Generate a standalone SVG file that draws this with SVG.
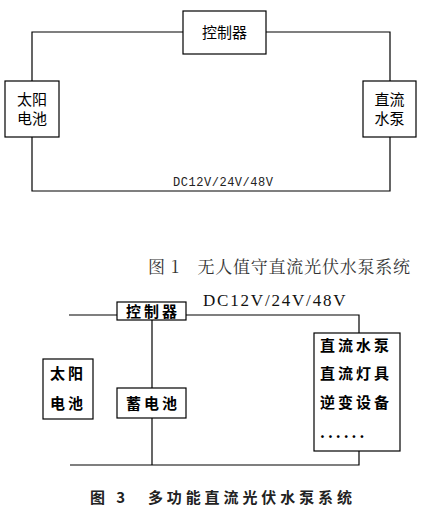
<svg xmlns="http://www.w3.org/2000/svg" width="422" height="518" viewBox="0 0 422 518">
<style>
.box{fill:#fff;stroke:#000;stroke-width:1.2}
.ln{fill:none;stroke:#000;stroke-width:1.2}
.t{font-family:"Noto Sans CJK SC","Noto Sans CJK JP",sans-serif;font-size:15px;fill:#000}
.t3{font-family:"Noto Sans CJK SC","Noto Sans CJK JP",sans-serif;font-size:15px;font-weight:bold;fill:#000;letter-spacing:3px}
.cap{font-family:"Noto Serif CJK SC","Noto Sans CJK SC",serif;font-size:17px;fill:#333}
</style>
<rect width="422" height="518" fill="#fff"/>
<g id="connectors1">
<polyline class="ln" points="183,32 32,32 32,81"/>
<polyline class="ln" points="266,32 390,32 390,81"/>
<polyline class="ln" points="32,137 32,191 390,191 390,137"/>
</g>
<g id="controller1"><rect class="box" x="183" y="11" width="83" height="43"/><text class="t" x="224.5" y="38" text-anchor="middle">控制器</text></g>
<g id="solar1"><rect class="box" x="5" y="81" width="54" height="56"/><text class="t" x="32" y="105" text-anchor="middle">太阳</text><text class="t" x="32" y="124" text-anchor="middle">电池</text></g>
<g id="pump1"><rect class="box" x="363" y="81" width="53" height="56"/><text class="t" x="389.5" y="105" text-anchor="middle">直流</text><text class="t" x="389.5" y="124" text-anchor="middle">水泵</text></g>
<text x="173" y="186" font-family="Liberation Mono,monospace" font-size="12" fill="#222" textLength="100">DC12V/24V/48V</text>
<text class="cap" x="148" y="273" textLength="262">图 1　无人值守直流光伏水泵系统</text>

<g id="connectors3">
<line class="ln" x1="69" y1="315" x2="117" y2="315"/>
<polyline class="ln" points="186,315 359,315 359,333"/>
<line class="ln" x1="152" y1="320" x2="152" y2="388"/>
<line class="ln" x1="152" y1="418" x2="152" y2="465"/>
<polyline class="ln" points="70,465 359,465 359,451"/>
</g>
<g id="controller3"><rect class="box" x="117" y="302" width="69" height="18"/><text class="t3" x="153" y="317" text-anchor="middle">控制器</text></g>
<g id="solar3"><rect class="box" x="43" y="359" width="50" height="60"/><text class="t3" x="68" y="379" text-anchor="middle">太阳</text><text class="t3" x="68" y="409" text-anchor="middle">电池</text></g>
<g id="battery3"><rect class="box" x="117" y="388" width="69" height="30"/><text class="t3" x="153" y="409" text-anchor="middle">蓄电池</text></g>
<g id="loads3"><rect class="box" x="314" y="333" width="86" height="118"/>
<text class="t3" x="320" y="351">直流水泵</text>
<text class="t3" x="320" y="379">直流灯具</text>
<text class="t3" x="320" y="408">逆变设备</text>
<text class="t3" x="320" y="438" letter-spacing="0">......</text>
</g>
<text x="203" y="306" font-family="Liberation Serif,serif" font-size="17" fill="#111" letter-spacing="1.5" textLength="144">DC12V/24V/48V</text>
<text x="90" y="503" font-family="Noto Sans CJK SC,sans-serif" font-size="15" font-weight="bold" fill="#222" textLength="262">图 3　多功能直流光伏水泵系统</text>
</svg>
